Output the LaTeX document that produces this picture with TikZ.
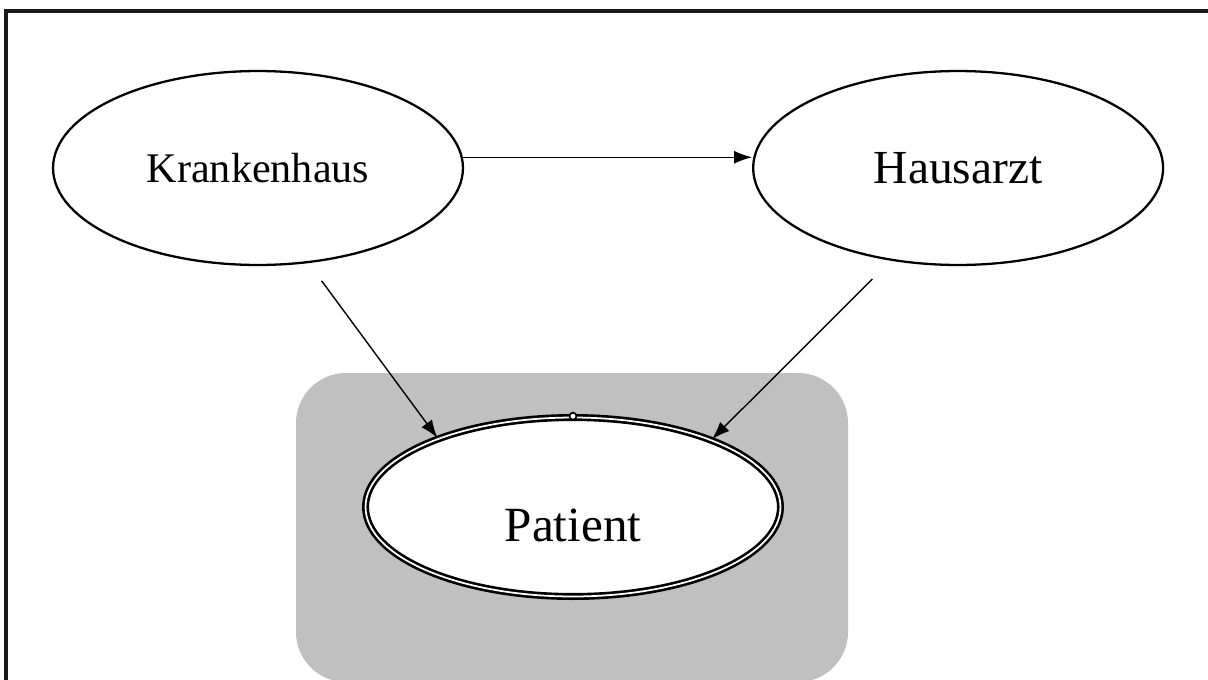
\documentclass[tikz,border=0pt]{standalone}
\usepackage{fontspec}
\setmainfont{Liberation Serif}
\usepackage{xcolor}
\usepackage{tikz}
\usetikzlibrary{positioning,arrows.meta,shapes.geometric}
\definecolor{boxgray}{HTML}{C0C0C0}
\definecolor{frameline}{HTML}{1A1A1A}
\tikzset{
    actor/.style={
        draw=black, fill=white, ellipse, line width=1.3pt,
        minimum width=8.2cm, minimum height=3.88cm, inner sep=0pt,
        font=\fontsize{24}{28}\selectfont, align=center
    },
    actorbig/.style={
        actor, font=\fontsize{27}{32}\selectfont
    },
    patientnode/.style={
        draw=black, fill=white, ellipse, line width=1.5pt,
        double=white, double distance=1pt,
        minimum width=8.3cm, minimum height=3.58cm, inner sep=0pt,
        text height=1.38cm, text depth=0pt,
        font=\fontsize{28}{33}\selectfont, align=center
    },
    carebox/.style={fill=boxgray, draw=none, rounded corners=1cm},
    arrow/.style={-{Latex[length=3.6mm, width=2.6mm]}, line width=0.8pt, color=black},
}
\begin{document}
\begin{tikzpicture}[x=0.02cm, y=-0.02cm, node distance=0cm and 5.76cm]
    \useasboundingbox (0,0) rectangle (1208,680);
    \clip (0,0) rectangle (1208,680);
    \draw[frameline, line width=2pt] (6,11) rectangle (1220,700);
    % shaded area behind the patient
    \path[carebox] (296,373) rectangle (848,682);
    \node[actor] (kh) at (258,168) {Krankenhaus};
    \node[actorbig, right=of kh] (hz) {Hausarzt};
    \node[patientnode] (pt) at (573,507) {Patient};
    \node[circle, draw, fill=white, line width=1pt, inner sep=0pt, minimum size=4pt] (pin) at (pt.north) {};
    \draw[arrow] (kh.3.4) -- (kh.3.4 -| hz.west);
    \draw[arrow, shorten <=0.44cm] (kh.-62.5) -- (pt.153.6);
    \draw[arrow, shorten <=0.52cm] (hz.-126) -- (pt.26.4);
\end{tikzpicture}
\end{document}
